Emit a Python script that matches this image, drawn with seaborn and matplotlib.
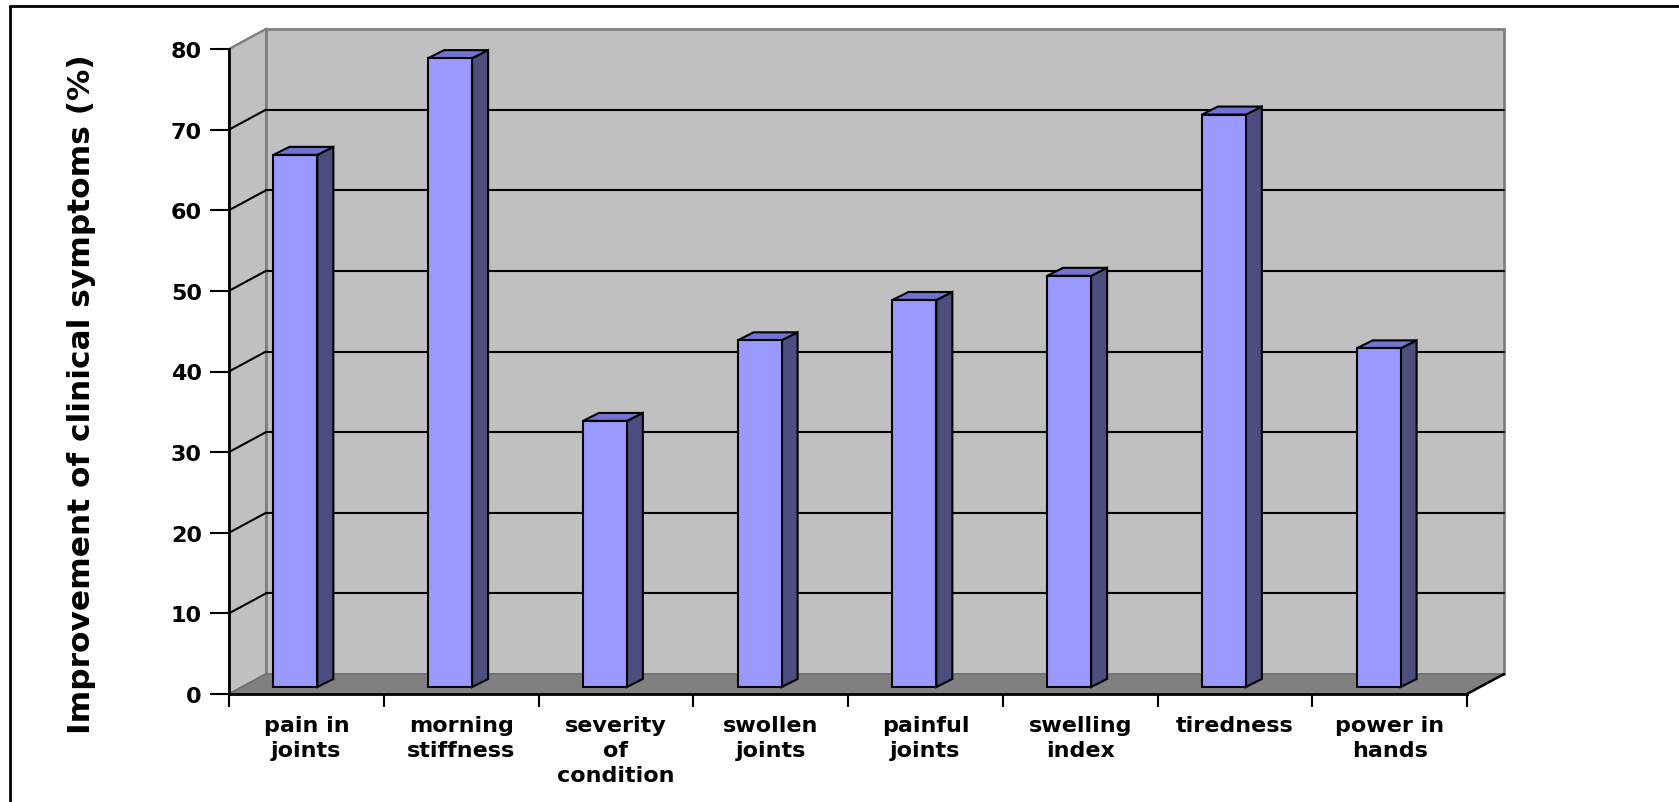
import numpy as np
import pandas as pd
import matplotlib
matplotlib.use("Agg")
import matplotlib.pyplot as plt
import seaborn as sns
from matplotlib.patches import Polygon
from matplotlib.lines import Line2D

# ---- data ----
categories = ["pain in\njoints", "morning\nstiffness", "severity\nof\ncondition",
              "swollen\njoints", "painful\njoints", "swelling\nindex",
              "tiredness", "power in\nhands"]
values = [66, 78, 33, 43, 48, 51, 71, 42]
yticks = [0, 10, 20, 30, 40, 50, 60, 70, 80]
ylabel = "Improvement of clinical symptoms (%)"

sns.set_style("white")
plt.rcParams["font.family"] = ["DejaVu Sans"]
plt.rcParams["font.weight"] = "bold"
for k in ["text.color", "axes.labelcolor", "xtick.color", "ytick.color",
          "xtick.labelcolor", "ytick.labelcolor"]:
    plt.rcParams[k] = "black"

W, H = 1679, 803
fig = plt.figure(figsize=(W / 100, H / 100), dpi=100)
ax = fig.add_axes([229 / W, (H - 695) / H, (1467 - 229) / W, (695 - 50) / H])

df = pd.DataFrame({"cat": categories, "val": values})
sns.barplot(data=df, x="cat", y="val", color="#9999FF", saturation=1,
            width=0.284, edgecolor="black", linewidth=1.5, ax=ax, zorder=6)
ax.set_xlim(-0.5, len(categories) - 0.5)
ax.set_ylim(0, 80)
ax.set_facecolor("none")

# pixel -> data conversions from the axes scales
t = ax.transData
ppc = t.transform((1, 0))[0] - t.transform((0, 0))[0]
ppu = t.transform((0, 1))[1] - t.transform((0, 0))[1]
dxD, dyD = 37 / ppc, 20 / ppu          # chart depth
bdx, bdy = 16 / ppc, 8 / ppu           # bar depth
sx, sy = -11 / ppc, 7 / ppu            # bar plane offset

x0, x1 = -0.5, len(categories) - 0.5
wall = "#C0C0C0"
edge = "#808080"

# left wall
ax.add_patch(Polygon([(x0, 0), (x0, 80), (x0 + dxD, 80 + dyD), (x0 + dxD, dyD)],
                     closed=True, facecolor=wall, edgecolor=edge, lw=1.5,
                     clip_on=False, zorder=1))
# back wall
ax.add_patch(Polygon([(x0 + dxD, dyD), (x0 + dxD, 80 + dyD), (x1 + dxD, 80 + dyD), (x1 + dxD, dyD)],
                     closed=True, facecolor=wall, edgecolor=edge, lw=2,
                     clip_on=False, zorder=1))
for v in yticks[1:-1]:
    ax.add_line(Line2D([x0 + dxD, x1 + dxD], [v + dyD, v + dyD], color="black",
                       lw=1.5, clip_on=False, zorder=2))
for v in yticks[1:]:
    ax.add_line(Line2D([x0, x0 + dxD], [v, v + dyD],
                       color="black" if v < 80 else edge,
                       lw=1.5, clip_on=False, zorder=2))
# floor
ax.add_patch(Polygon([(x0, 0), (x1, 0), (x1 + dxD, dyD), (x0 + dxD, dyD)],
                     closed=True, facecolor="#808080", edgecolor="#707070", lw=1.2,
                     clip_on=False, zorder=3))
ax.add_line(Line2D([x1, x1 + dxD], [0, dyD], color="black", lw=1.8,
                   clip_on=False, zorder=4))

# 3D bars
for p in list(ax.patches):
    if not isinstance(p, matplotlib.patches.Rectangle):
        continue
    p.set_x(p.get_x() + sx)
    p.set_y(p.get_y() + sy)
    bx0, by0 = p.get_x(), p.get_y()
    bx1, by1 = bx0 + p.get_width(), by0 + p.get_height()
    ax.add_patch(Polygon([(bx1, by0), (bx1, by1), (bx1 + bdx, by1 + bdy), (bx1 + bdx, by0 + bdy)],
                         closed=True, facecolor="#4D4D80", edgecolor="black", lw=1.5,
                         clip_on=False, zorder=5))
    ax.add_patch(Polygon([(bx0, by1), (bx1, by1), (bx1 + bdx, by1 + bdy), (bx0 + bdx, by1 + bdy)],
                         closed=True, facecolor="#7272D0", edgecolor="black", lw=1.5,
                         clip_on=False, zorder=5))

# axes, ticks, labels
for s in ["top", "right"]:
    ax.spines[s].set_visible(False)
for s in ["left", "bottom"]:
    ax.spines[s].set_color("black")
    ax.spines[s].set_linewidth(2)
    ax.spines[s].set_zorder(8)

ax.set_yticks(yticks)
ax.tick_params(axis="y", length=14, width=1.5, color="black", pad=5.5,
               labelsize=16, left=True, direction="out")
ax.set_xticks(range(len(categories)))
ax.set_xticklabels(categories, linespacing=1.32)
ax.set_xticks(np.arange(-0.5, len(categories), 1), minor=True)
ax.tick_params(axis="x", which="major", length=0, pad=15, labelsize=16)
ax.tick_params(axis="x", which="minor", length=9, width=1.5, color="black",
               bottom=True, direction="out")
ax.set_xlabel("")
ax.set_ylabel(ylabel, fontsize=22.5, fontweight="bold", va="center", ha="center")
ax.yaxis.set_label_coords((81 - 229) / (1467 - 229), (695 - 394) / (695 - 50))

# outer frame (top and left edges visible)
fig.add_artist(Line2D([10 / W, 1], [1 - 7 / H, 1 - 7 / H], color="black", lw=2,
                      transform=fig.transFigure))
fig.add_artist(Line2D([10 / W, 10 / W], [0, 1 - 7 / H], color="black", lw=2,
                      transform=fig.transFigure))

fig.savefig("out.png", dpi=100, facecolor="white")
